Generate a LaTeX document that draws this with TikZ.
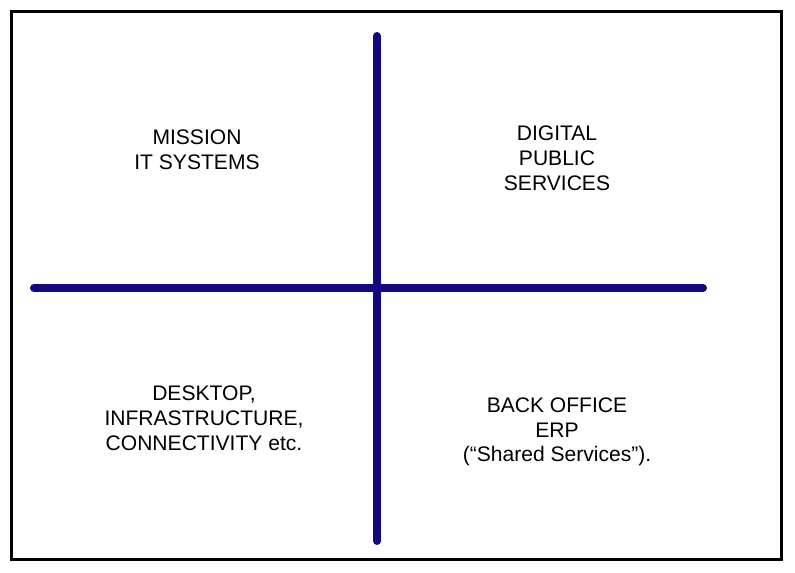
\documentclass[tikz,border=0pt]{standalone}
\usepackage{fontspec}
\setmainfont{Liberation Sans}
\usepackage{tikz}
\usetikzlibrary{positioning}
\definecolor{axisblue}{RGB}{18,8,128}

\begin{document}
\begin{tikzpicture}[x=0.75pt,y=-0.75pt,
    quadlabel/.style={align=center,font=\fontsize{15.8}{18.6}\selectfont,inner sep=0pt}]
      \useasboundingbox (0,0) rectangle (795,572);
      % Frame
      \draw[line width=2.3pt] (11.5,11.5) rectangle (781.5,559.5);
      % Axes
      \coordinate (top) at (377,36);
      \coordinate (bottom) at (377,541);
      \coordinate (left) at (34,288);
      \coordinate (right) at (703,288);
      \draw[axisblue,line width=6pt,line cap=round] (top) -- (bottom);
      \draw[axisblue,line width=6pt,line cap=round] (left) -- (right);
      % Quadrants
      \node[quadlabel] (mission) at (197,150) {MISSION\\IT SYSTEMS};
      \node[quadlabel] (digital) at (557,158) {DIGITAL\\PUBLIC\\SERVICES};
      \node[quadlabel] (desktop) at (204,418) {DESKTOP,\\INFRASTRUCTURE,\\CONNECTIVITY etc.};
      \node[quadlabel] (backoffice) at (557,432) {BACK OFFICE\\ERP\\(“Shared Services”).};
\end{tikzpicture}
\end{document}
